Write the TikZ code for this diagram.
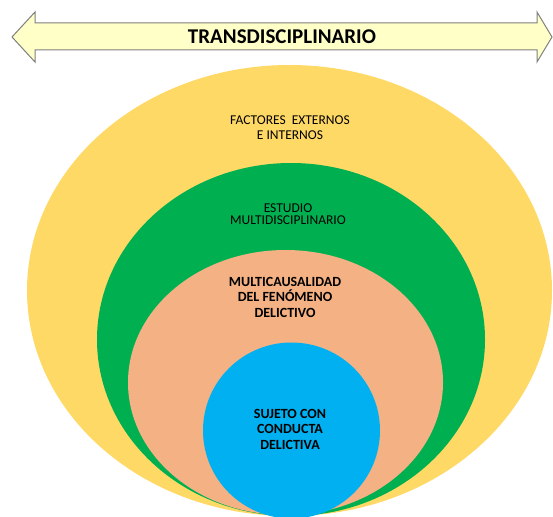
\documentclass[tikz,border=0pt]{standalone}
\usepackage{fontspec}
\setmainfont{Carlito}
\usepackage{xcolor}
\usetikzlibrary{positioning}
\definecolor{gold}{HTML}{FFD966}
\definecolor{leaf}{HTML}{00B050}
\definecolor{salmon}{HTML}{F4B183}
\definecolor{sky}{HTML}{00B0F0}
\definecolor{cream}{HTML}{FFFFC8}
\definecolor{rim}{HTML}{7F7F7F}

\begin{document}
\begin{tikzpicture}[x=1pt, y=-1pt,
  lbl/.style={align=center, inner sep=0pt, font=\fontsize{13.5}{14.5}\selectfont},
  blbl/.style={align=center, inner sep=0pt, font=\fontsize{14}{15.5}\selectfont\bfseries},
  band/.style={draw=rim, line width=1pt, fill=cream, line join=miter}]
  \useasboundingbox (0,0) rectangle (553,516);
  % double arrow on top
  \draw[band] (12,37) -- (35,12) -- (35,23) -- (537,23) -- (537,12) -- (552,37)
    -- (537,62) -- (537,50) -- (35,50) -- (35,62) -- cycle;
  \node[font=\fontsize{21}{24}\selectfont\bfseries, inner sep=0pt] (trans) at (282,37) {TRANSDISCIPLINARIO};
  % nested ellipses
  \fill[gold] (289.5,290.5) ellipse [x radius=262.5, y radius=225.5];
  \fill[leaf] (291,339.5) ellipse [x radius=194, y radius=176.5];
  \fill[salmon] (285.5,382.5) ellipse [x radius=157.5, y radius=132.5];
  \fill[sky] (291.5,430.5) ellipse [x radius=88.5, y radius=88];
  \node[lbl] (factores) at (290,127.5) {FACTORES\ \ EXTERNOS\\E INTERNOS};
  \node[lbl] (estudio) at (288,214) {ESTUDIO\\[-2pt]MULTIDISCIPLINARIO};
  \node[blbl] (multi) at (285,297) {MULTICAUSALIDAD\\DEL FENÓMENO\\DELICTIVO};
  \node[blbl] (sujeto) at (290,429) {SUJETO CON\\CONDUCTA\\DELICTIVA};
\end{tikzpicture}
\end{document}
